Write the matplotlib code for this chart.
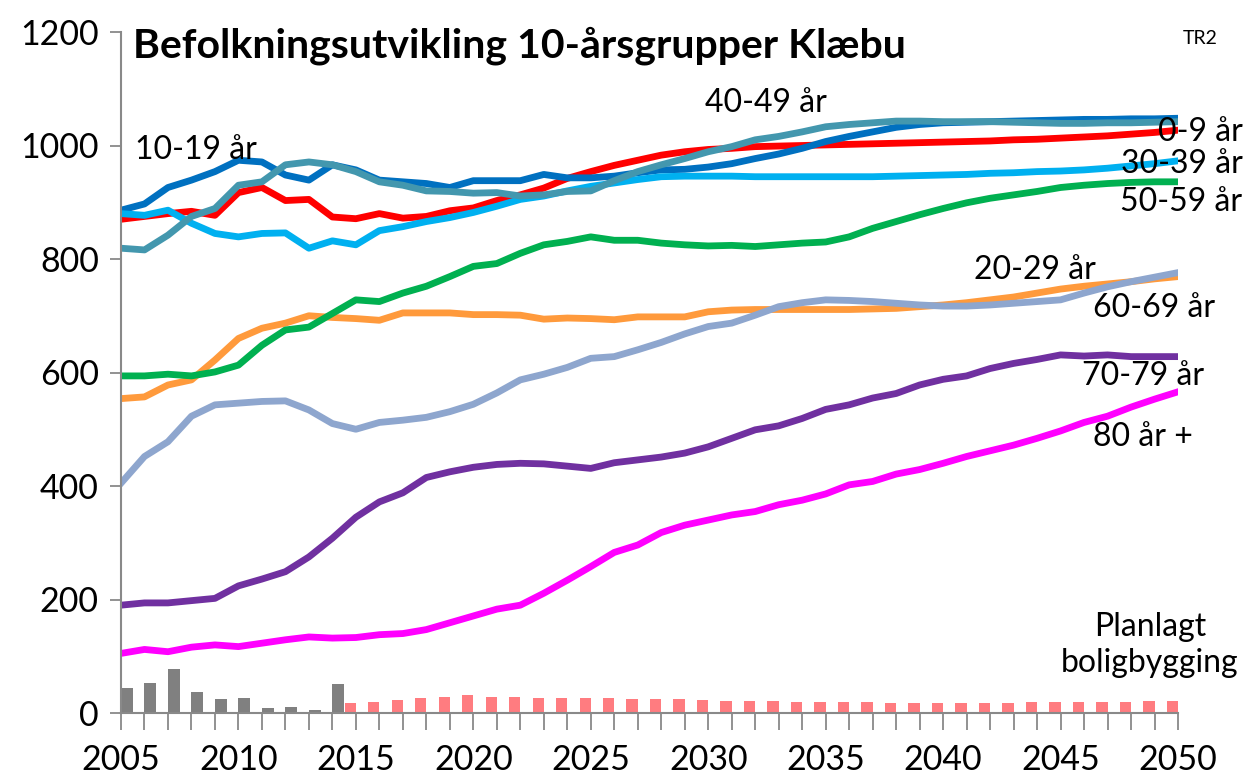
import matplotlib
matplotlib.use("Agg")
import matplotlib.pyplot as plt
from matplotlib.ticker import MultipleLocator

plt.rcParams['font.family'] = ['Lato', 'DejaVu Sans']

years = list(range(2005, 2051))

age_0_9 = [870, 875, 880, 884, 877, 917, 926, 903, 905, 874, 871, 880, 872, 875, 885, 890,
           903, 913, 925, 942, 954, 965, 974, 983, 989, 993, 995, 998, 999, 1000, 1001, 1002,
           1003, 1004, 1005, 1006, 1007, 1008, 1010, 1011, 1013, 1015, 1017, 1020, 1023, 1027]
age_10_19 = [886, 897, 926, 939, 954, 974, 971, 948, 939, 966, 957, 939, 936, 933, 926, 938,
             938, 938, 949, 943, 943, 946, 952, 957, 958, 962, 968, 977, 985, 995, 1007, 1016,
             1024, 1032, 1037, 1040, 1041, 1042, 1043, 1044, 1045, 1046, 1046, 1047, 1047, 1048]
age_20_29 = [554, 557, 578, 587, 622, 660, 678, 687, 700, 697, 695, 692, 705, 705, 705, 702,
             702, 701, 694, 696, 695, 693, 698, 698, 698, 707, 710, 711, 711, 711, 711, 711,
             712, 713, 716, 719, 723, 728, 733, 740, 747, 752, 756, 760, 765, 769]
age_30_39 = [880, 877, 886, 863, 845, 839, 845, 846, 819, 832, 825, 850, 857, 866, 873, 882,
             893, 905, 911, 920, 928, 934, 940, 945, 946, 946, 946, 945, 945, 945, 945, 945,
             945, 946, 947, 948, 949, 951, 952, 954, 955, 957, 960, 964, 968, 973]
age_40_49 = [819, 816, 842, 875, 889, 930, 936, 966, 971, 966, 954, 936, 930, 920, 919, 916,
             917, 911, 913, 919, 920, 938, 954, 966, 977, 989, 998, 1010, 1016, 1024, 1033, 1037,
             1040, 1043, 1043, 1042, 1042, 1042, 1041, 1040, 1039, 1039, 1040, 1040, 1041, 1042]
age_50_59 = [594, 594, 597, 594, 601, 613, 648, 675, 680, 704, 728, 725, 740, 752, 769, 787,
             792, 810, 825, 831, 839, 833, 833, 828, 825, 823, 824, 822, 825, 828, 830, 839,
             854, 866, 878, 889, 899, 907, 913, 919, 926, 930, 933, 935, 936, 936]
age_60_69 = [405, 452, 478, 523, 543, 546, 549, 550, 534, 510, 500, 512, 516, 521, 531, 544,
             564, 587, 597, 609, 625, 628, 640, 653, 668, 681, 687, 701, 716, 723, 728, 727,
             725, 722, 719, 717, 717, 719, 722, 725, 728, 740, 751, 760, 768, 776]
age_70_79 = [190, 194, 194, 198, 202, 224, 236, 249, 275, 308, 345, 372, 388, 415, 425, 433,
             438, 440, 439, 435, 431, 441, 446, 451, 458, 469, 484, 499, 506, 519, 535, 543,
             555, 563, 578, 588, 594, 607, 616, 623, 631, 629, 631, 628, 628, 628]
age_80 = [105, 112, 108, 116, 120, 117, 123, 129, 134, 132, 133, 138, 140, 147, 159, 171,
          183, 190, 211, 234, 258, 283, 296, 318, 331, 340, 349, 355, 367, 375, 386, 402,
          408, 421, 429, 440, 452, 462, 472, 484, 497, 512, 523, 539, 553, 566]

built_years = list(range(2005, 2015))
built = [44, 53, 78, 37, 24, 26, 8, 11, 5, 51]
planned_years = list(range(2015, 2051))
planned = [17, 20, 23, 26, 29, 31, 29, 28, 27, 27, 26, 26, 25, 24, 24, 23, 22, 22, 21, 20,
           19, 19, 19, 18, 18, 18, 18, 18, 18, 19, 19, 19, 20, 20, 21, 21]

series = [
    (age_0_9, "#FF0000"),
    (age_10_19, "#0070C0"),
    (age_20_29, "#FF9A3C"),
    (age_30_39, "#00B0F0"),
    (age_40_49, "#4397AE"),
    (age_50_59, "#00B050"),
    (age_60_69, "#8EA6CE"),
    (age_70_79, "#7030A0"),
    (age_80, "#FF00FF"),
]

fig = plt.figure(figsize=(12.47, 7.76), dpi=100)
ax = fig.add_axes([121 / 1247, 1 - 713 / 776, (1178 - 121) / 1247, (713 - 32) / 776])

ax.bar(built_years, built, width=0.5, align="edge", color="#808080", zorder=1)
ax.bar(planned_years, planned, width=-0.48, align="edge", color="#FF7C80", zorder=1)

for vals, col in series:
    ax.plot(years, vals, color=col, lw=4.9, solid_joinstyle="round", zorder=2)

ax.set_xlim(2005, 2050)
ax.set_ylim(0, 1200)
ax.xaxis.set_major_locator(MultipleLocator(5))
ax.xaxis.set_minor_locator(MultipleLocator(1))
ax.yaxis.set_major_locator(MultipleLocator(200))

for s in ["top", "right"]:
    ax.spines[s].set_visible(False)
for s in ["left", "bottom"]:
    ax.spines[s].set_color("#898989")
    ax.spines[s].set_linewidth(1.5)

ax.tick_params(axis="x", which="both", direction="out", length=12, width=1.3,
               color="#898989", labelsize=24.5, pad=10)
ax.tick_params(axis="y", direction="out", length=8, width=1.3, color="#898989",
               labelsize=24.5, pad=8)

lab = dict(fontsize=23, color="black", va="center")
ax.text(2005.6, 992, "10-19 år", ha="left", **lab)
ax.text(2029.85, 1075, "40-49 år", ha="left", **lab)
ax.text(2052.75, 1024, "0-9 år", ha="right", **lab)
ax.text(2052.75, 967, "30-39 år", ha="right", **lab)
ax.text(2052.75, 900, "50-59 år", ha="right", **lab)
ax.text(2041.3, 781, "20-29 år", ha="left", **lab)
ax.text(2046.4, 714, "60-69 år", ha="left", **lab)
ax.text(2045.9, 594, "70-79 år", ha="left", **lab)
ax.text(2046.4, 486, "80 år +", ha="left", **lab)
ax.text(2048.8, 120, "Planlagt\nboligbygging", ha="center", linespacing=1.25, **lab)

fig.text(133 / 1247, 1 - 46 / 776, "Befolkningsutvikling 10-årsgrupper Klæbu",
         fontsize=29.5, fontweight="bold", ha="left", va="center")
fig.text(1200 / 1247, 1 - 38 / 776, "TR2", fontsize=14, ha="center", va="center")

fig.savefig("out.png", dpi=100)
